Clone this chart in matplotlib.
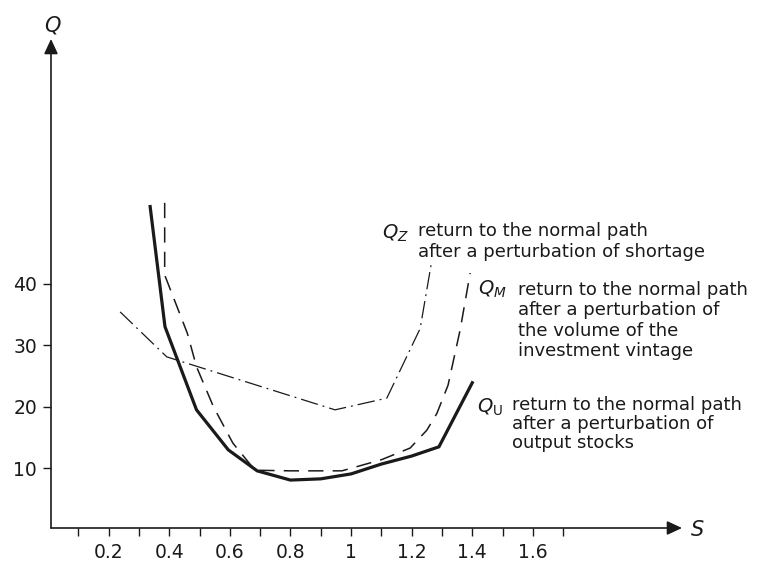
import matplotlib
matplotlib.use("Agg")
import matplotlib.pyplot as plt
from matplotlib.patches import FancyArrowPatch

# Recovery paths Q(S) after different perturbations
s_u = [0.337, 0.386, 0.49, 0.595, 0.69, 0.80, 0.90, 1.00, 1.10, 1.20, 1.29, 1.40]
q_u = [52.5, 33.0, 19.5, 13.0, 9.6, 8.1, 8.3, 9.1, 10.7, 12.0, 13.5, 23.9]

s_m = [0.385, 0.385, 0.46, 0.49, 0.546, 0.61, 0.683, 0.80, 0.97, 1.10, 1.195,
       1.25, 1.283, 1.32, 1.36, 1.393]
q_m = [53.1, 41.4, 31.9, 26.5, 20.0, 14.1, 9.7, 9.6, 9.6, 11.4, 13.3,
       16.2, 18.9, 23.5, 32.5, 41.7]

s_z = [0.238, 0.392, 0.947, 1.118, 1.228, 1.266]
q_z = [35.4, 28.1, 19.5, 21.4, 32.7, 43.6]

x_ticks = [0.1, 0.2, 0.3, 0.4, 0.5, 0.6, 0.7, 0.8, 0.9, 1.0, 1.1, 1.2, 1.3, 1.4, 1.5, 1.6, 1.7]
x_labels = ["", "0.2", "", "0.4", "", "0.6", "", "0.8", "", "1", "", "1.2", "", "1.4", "", "1.6", ""]
y_ticks = [10, 20, 30, 40]
y_labels = ["10", "20", "30", "40"]

label_z = "return to the normal path\nafter a perturbation of shortage"
label_m = "return to the normal path\nafter a perturbation of\nthe volume of the\ninvestment vintage"
label_u = "return to the normal path\nafter a perturbation of\noutput stocks"

W, H = 764, 561
INK = "#1a1a1a"
plt.rcParams["font.family"] = ["DejaVu Sans"]
plt.rcParams["mathtext.fontset"] = "dejavusans"

fig = plt.figure(figsize=(W / 100, H / 100), dpi=100)
fig.patch.set_facecolor("white")

def fx(px):
    return px / W

def fy(py):
    return 1 - py / H

# axes box: origin at pixel (51, 528), arrow tips at x=682 and y=39
ax = fig.add_axes([fx(51), fy(528), fx(682) - fx(51), fy(39) - fy(528)])
ax.set_xlim(0.0099, 2.092)
ax.set_ylim(0.32, 79.7)
ax.set_facecolor("white")
for sp in ax.spines.values():
    sp.set_visible(False)

ax.plot(s_z, q_z, color=INK, lw=0.9, linestyle=(0, (14, 4, 1.5, 4)), zorder=2)
ax.plot(s_m, q_m, color=INK, lw=1.1, linestyle=(0, (10, 6)), zorder=3)
ax.plot(s_u, q_u, color=INK, lw=2.3, solid_joinstyle="miter", zorder=4)

ax.set_xticks(x_ticks)
ax.set_xticklabels(x_labels)
ax.set_yticks(y_ticks)
ax.set_yticklabels(y_labels)
ax.tick_params(axis="x", direction="out", length=6, width=1.0, pad=5,
               labelsize=13.5, colors=INK)
ax.tick_params(axis="y", direction="out", length=6, width=1.0, pad=4,
               labelsize=13.5, colors=INK)

# axis lines with arrow heads
for start, end in [((0, 0), (1, 0)), ((0, 0), (0, 1))]:
    arr = FancyArrowPatch(start, end, transform=ax.transAxes,
                          arrowstyle="-|>,head_length=0.9,head_width=0.42",
                          mutation_scale=10, lw=1.2, color=INK,
                          shrinkA=0, shrinkB=0, clip_on=False, zorder=5)
    ax.add_patch(arr)

fig.text(fx(53), fy(25), r"$Q$", fontsize=15, ha="center", va="center", color=INK)
fig.text(fx(697), fy(530), r"$S$", fontsize=15, ha="center", va="center", color=INK)

fig.text(fx(382), fy(233), r"$Q_Z$", fontsize=14, ha="left", va="center", color=INK)
fig.text(fx(418), fy(241.5), label_z, fontsize=13, ha="left", va="center",
         color=INK, linespacing=1.15)

fig.text(fx(478), fy(289), r"$Q_M$", fontsize=14, ha="left", va="center", color=INK)
fig.text(fx(518), fy(320.5), label_m, fontsize=13, ha="left", va="center",
         color=INK, linespacing=1.15)

fig.text(fx(477), fy(407), r"$Q_\mathrm{U}$", fontsize=14, ha="left", va="center", color=INK)
fig.text(fx(512), fy(424), label_u, fontsize=13, ha="left", va="center",
         color=INK, linespacing=1.05)

fig.savefig("out.png", dpi=100, facecolor="white")
